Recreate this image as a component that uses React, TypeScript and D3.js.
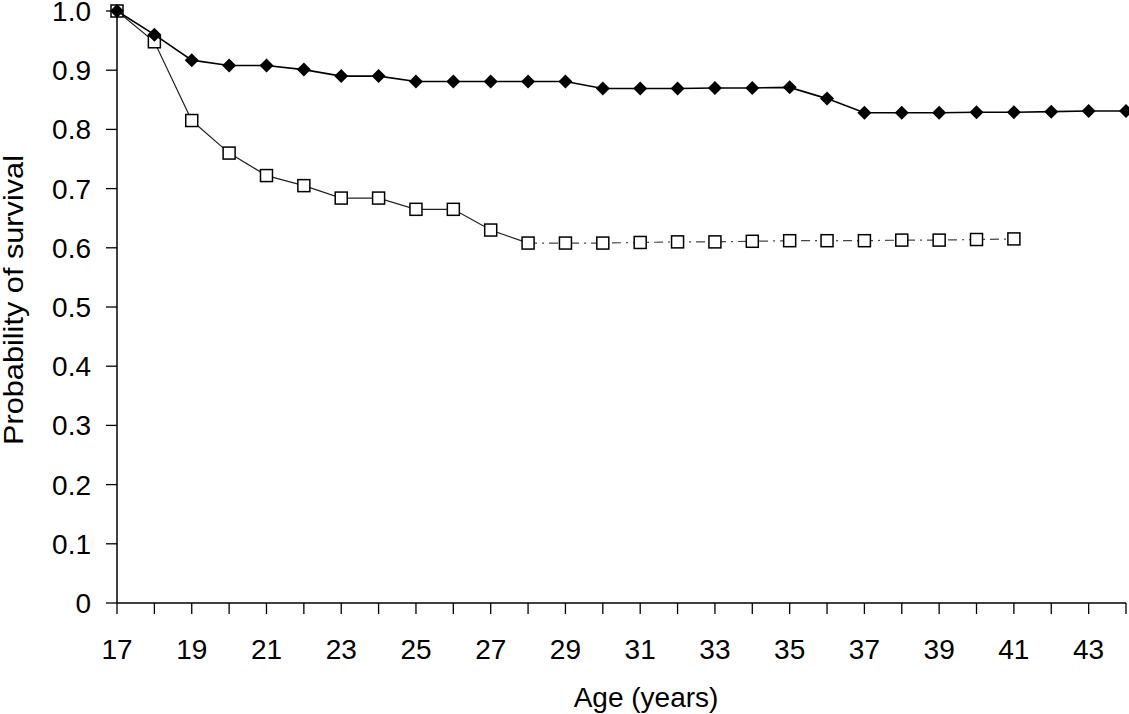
import React from "react";
import * as d3 from "d3";

const agesA = [17,18,19,20,21,22,23,24,25,26,27,28,29,30,31,32,33,34,35,36,37,38,39,40,41,42,43,44];
const survivalA = [1.0,0.96,0.917,0.908,0.908,0.901,0.89,0.89,0.881,0.881,0.881,0.881,0.881,0.869,0.869,0.869,0.87,0.87,0.871,0.852,0.828,0.828,0.828,0.829,0.829,0.83,0.831,0.831];
const agesB = [17,18,19,20,21,22,23,24,25,26,27,28,29,30,31,32,33,34,35,36,37,38,39,40,41];
const survivalB = [1.0,0.948,0.815,0.76,0.722,0.705,0.684,0.684,0.665,0.665,0.63,0.608,0.608,0.608,0.609,0.61,0.61,0.611,0.612,0.612,0.612,0.613,0.613,0.614,0.615];
const yTicks = [0,0.1,0.2,0.3,0.4,0.5,0.6,0.7,0.8,0.9,1.0];
const xTicks = d3.range(17, 45);
const xLabels = [17,19,21,23,25,27,29,31,33,35,37,39,41,43];

export default function App() {
  const W = 1129, H = 714;
  const x = d3.scaleLinear().domain([17, 44]).range([117, 1126]);
  const y = d3.scaleLinear().domain([0, 1]).range([603, 11]);
  const font = "'Liberation Sans', Arial, sans-serif";
  const ptsA = agesA.map((a, i) => [x(a), y(survivalA[i])] as [number, number]);
  const ptsB = agesB.map((a, i) => [x(a), y(survivalB[i])] as [number, number]);
  const line = d3.line();
  const splitIdx = agesB.indexOf(28);
  const diamond = d3.symbol().type(d3.symbolDiamond2).size(125)();
  return (
    <svg width={W} height={H} style={{ position: "absolute", left: 0, top: 0, background: "#fff" }}>
      <rect width={W} height={H} fill="#fff" />
      {/* axes */}
      <line x1={x(17)} x2={x(17)} y1={y(1)} y2={y(0)} stroke="#000" strokeWidth={1.5} />
      <line x1={x(17)} x2={x(44)} y1={y(0)} y2={y(0)} stroke="#000" strokeWidth={1.6} />
      {yTicks.map((t) => (
        <g key={"y" + t}>
          <line x1={x(17) - 11} x2={x(17)} y1={y(t)} y2={y(t)} stroke="#000" strokeWidth={1.3} />
          <text x={91} y={y(t)} dy="0.36em" textAnchor="end" fontFamily={font} fontSize={28} fill="#000">
            {t === 0 ? "0" : t.toFixed(1)}
          </text>
        </g>
      ))}
      {xTicks.map((t) => (
        <line key={"x" + t} x1={x(t)} x2={x(t)} y1={y(0)} y2={y(0) + 11} stroke="#000" strokeWidth={1.3} />
      ))}
      {xLabels.map((t) => (
        <text key={"xl" + t} x={x(t)} y={659} textAnchor="middle" fontFamily={font} fontSize={28} fill="#000">
          {t}
        </text>
      ))}
      <text x={646} y={707} textAnchor="middle" fontFamily={font} fontSize={28} fill="#000">Age (years)</text>
      <text transform="translate(23,300) rotate(-90)" textAnchor="middle" fontFamily={font} fontSize={28} fill="#000" textLength={290} lengthAdjust="spacingAndGlyphs">
        Probability of survival
      </text>
      {/* series B (open squares) */}
      <path d={line(ptsB.slice(0, splitIdx + 1)) || ""} fill="none" stroke="#222" strokeWidth={1.2} />
      <path d={line(ptsB.slice(splitIdx)) || ""} fill="none" stroke="#444" strokeWidth={1.2} strokeDasharray="9,5,2,5" />
      {ptsB.map(([px, py], i) => (
        <rect key={"b" + i} x={px - 6} y={py - 6} width={12} height={12} fill="#fff" stroke="#000" strokeWidth={1.5} />
      ))}
      {/* series A (filled diamonds) */}
      <path d={line(ptsA) || ""} fill="none" stroke="#000" strokeWidth={1.6} />
      {ptsA.map(([px, py], i) => (
        <path key={"a" + i} d={diamond || ""} transform={`translate(${px},${py})`} fill="#000" />
      ))}
    </svg>
  );
}
